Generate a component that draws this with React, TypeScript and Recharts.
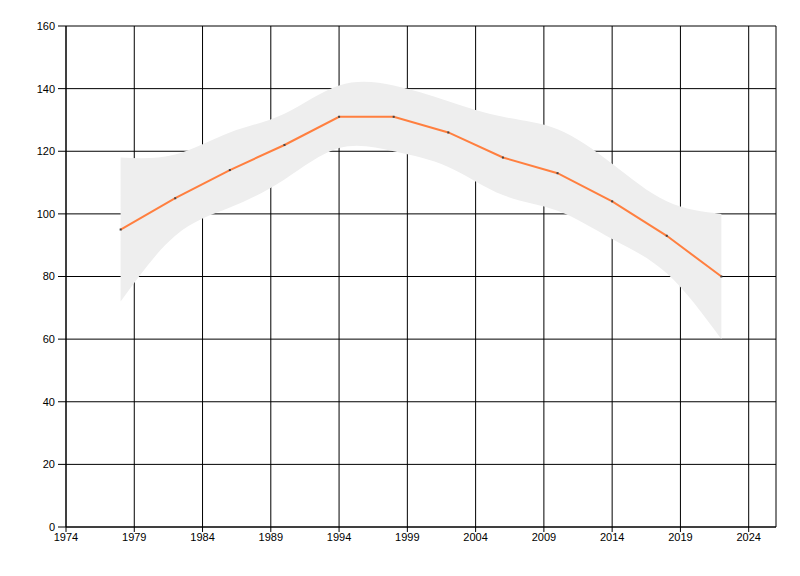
import React from "react";
import {
  ComposedChart,
  Line,
  Area,
  XAxis,
  YAxis,
  CartesianGrid,
} from "recharts";

// Sample years and the estimated series / confidence band
const years = [1978, 1982, 1986, 1990, 1994, 1998, 2002, 2006, 2010, 2014, 2018, 2022];
const values = [95, 105, 114, 122, 131, 131, 126, 118, 113, 104, 93, 80];
const lower = [72, 93, 102, 111, 121, 120, 115, 106, 101, 92, 81, 60];
const upper = [118, 119, 126, 132, 141, 141, 136, 131, 127, 116, 104, 100];

const xTicks = [1974, 1979, 1984, 1989, 1994, 1999, 2004, 2009, 2014, 2019, 2024];
const yTicks = [0, 20, 40, 60, 80, 100, 120, 140, 160];

const data = years.map((year, i) => ({
  year,
  value: values[i],
  band: [lower[i], upper[i]],
}));

const tickStyle = { fill: "#000", fontSize: 11, fontFamily: "Liberation Sans, Arial, sans-serif" };

const SmallDot = (props: any) => {
  const { cx, cy } = props;
  if (cx == null || cy == null) return null;
  return <rect x={cx - 1} y={cy - 1} width={2} height={2} fill="#444" />;
};

export default function App() {
  return (
    <div style={{ position: "absolute", left: 0, top: 0, width: 800, height: 576, background: "#fff" }}>
      <ComposedChart
        width={800}
        height={576}
        data={data}
        margin={{ top: 26, right: 24, bottom: 19, left: 26 }}
      >
        <CartesianGrid stroke="#000" strokeWidth={1} />
        <XAxis
          dataKey="year"
          type="number"
          domain={[1974, 2026]}
          ticks={xTicks}
          height={30}
          stroke="#000"
          tickSize={5}
          tickMargin={1}
          tick={tickStyle}
          interval={0}
        />
        <YAxis
          type="number"
          domain={[0, 160]}
          ticks={yTicks}
          width={40}
          stroke="#000"
          tickSize={8}
          tickMargin={3}
          tick={tickStyle}
          interval={0}
        />
        <Area
          dataKey="band"
          type="natural"
          fill="#eeeeee"
          fillOpacity={1}
          stroke="none"
          isAnimationActive={false}
        />
        <Line
          dataKey="value"
          type="linear"
          stroke="#ff7f3f"
          strokeWidth={2}
          dot={<SmallDot />}
          activeDot={false}
          isAnimationActive={false}
        />
      </ComposedChart>
    </div>
  );
}
